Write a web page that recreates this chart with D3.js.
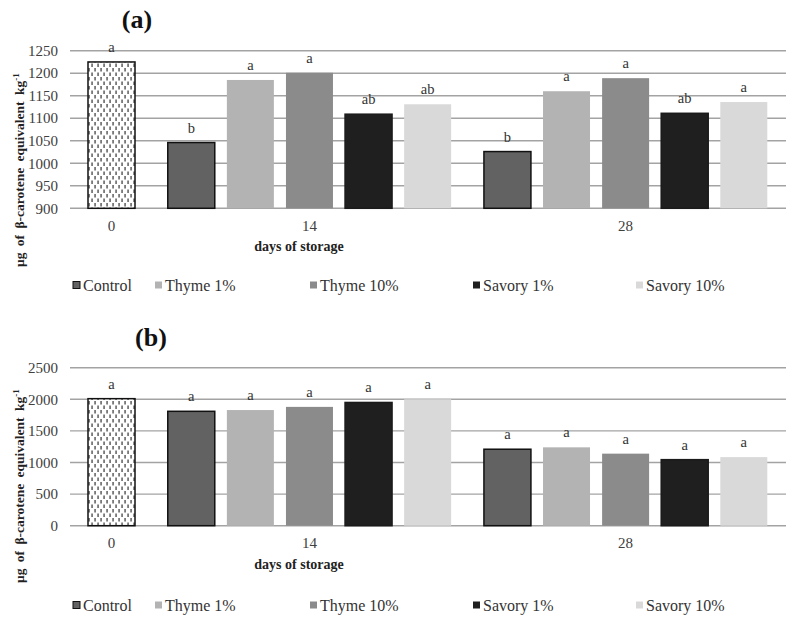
<!DOCTYPE html>
<html><head><meta charset="utf-8">
<script src="https://cdn.jsdelivr.net/npm/d3@7"></script>
<style>
html,body{margin:0;padding:0;background:#fff;}
svg{display:block;font-family:"Liberation Serif","Times New Roman",serif;}
</style></head>
<body>
<svg id="chart" width="796" height="620"></svg>
<script>
// ---------- data ----------
const days = ["0", "14", "28"];
const seriesNames = ["Control", "Thyme 1%", "Thyme 10%", "Savory 1%", "Savory 10%"];

// panel (a)
const aControl   = [1225, 1046, 1026];
const aThyme1    = [null, 1185, 1160];
const aThyme10   = [null, 1201, 1189];
const aSavory1   = [null, 1109, 1111];
const aSavory10  = [null, 1131, 1136];
const aLetters = [["a","b","b"], [null,"a","a"], [null,"a","a"], [null,"ab","ab"], [null,"ab","a"]];
const aTicks = [900, 950, 1000, 1050, 1100, 1150, 1200, 1250];

// panel (b)
const bControl   = [2010, 1810, 1210];
const bThyme1    = [null, 1830, 1240];
const bThyme10   = [null, 1880, 1140];
const bSavory1   = [null, 1950, 1045];
const bSavory10  = [null, 2000, 1085];
const bLetters = [["a","a","a"], [null,"a","a"], [null,"a","a"], [null,"a","a"], [null,"a","a"]];
const bTicks = [0, 500, 1000, 1500, 2000, 2500];

const yTitle = "μg of β-carotene equivalent";
const xTitle = "days of storage";

// ---------- style ----------
const fills = ["#626262", "#b3b3b3", "#8b8b8b", "#1f1f1f", "#d9d9d9"];
const strokes = ["#111", "none", "none", "#1a1a1a", "none"];
const legendX = [73, 155, 310, 473, 636];

const svg = d3.select("#chart");

// dashed pattern for day 0
const defs = svg.append("defs");
const pat = defs.append("pattern").attr("id","dots").attr("patternUnits","userSpaceOnUse")
  .attr("width", 6).attr("height", 9);
pat.append("rect").attr("width",6).attr("height",9).attr("fill","#fff");
pat.append("rect").attr("x",1.5).attr("y",0.5).attr("width",1.1).attr("height",3.5).attr("fill","#222");
pat.append("rect").attr("x",4.5).attr("y",5).attr("width",1.1).attr("height",3.5).attr("fill","#222");

// slot layout computed from data
function buildSlots(seriesVals){
  const slots = [];
  let s = 0;
  const groupCenters = [];
  days.forEach((d, di) => {
    const present = seriesVals.map((v,si)=>({si, v:v[di]})).filter(o => o.v != null);
    if (di > 0) s += 0.35;
    const first = s;
    present.forEach(o => { slots.push({day: di, si: o.si, v: o.v, slot: s}); s += 1; });
    groupCenters.push((first + s - 1) / 2);
  });
  return {slots, groupCenters, last: s - 1};
}

function panel(opts){
  const {vals, letters, ticks, yDomain, yRange, title, titlePos, xTitleY, dayY, legendY, yTitleBottom} = opts;
  const g = svg.append("g");
  const L = buildSlots(vals);
  const x = d3.scaleLinear().domain([0, L.last]).range([111.5, 743.8]);
  const y = d3.scaleLinear().domain(yDomain).range(yRange);
  const bw = 47;
  const plotL = 70, plotR = 786;

  g.selectAll("line.grid").data(ticks).join("line")
    .attr("x1", plotL).attr("x2", plotR)
    .attr("y1", d => y(d)).attr("y2", d => y(d))
    .attr("stroke", "#a3a3a3").attr("stroke-width", 1.4);

  g.selectAll("text.yt").data(ticks).join("text")
    .attr("x", 58).attr("y", d => y(d)).attr("dy", "0.35em")
    .attr("text-anchor", "end").attr("font-size", 15).attr("fill", "#404040")
    .text(d => d);

  g.selectAll("rect.bar").data(L.slots).join("rect")
    .attr("x", d => x(d.slot) - bw/2).attr("width", bw)
    .attr("y", d => y(d.v)).attr("height", d => y(yDomain[0]) - y(d.v))
    .attr("fill", d => d.day === 0 ? "url(#dots)" : fills[d.si])
    .attr("stroke", d => d.day === 0 ? "#111" : strokes[d.si])
    .attr("stroke-width", 1.5);

  g.selectAll("text.lab").data(L.slots).join("text")
    .attr("x", d => x(d.slot)).attr("y", d => y(d.v) - 10)
    .attr("text-anchor", "middle").attr("font-size", 14.5).attr("fill", "#333")
    .text(d => letters[d.si][d.day]);

  g.selectAll("text.day").data(days).join("text")
    .attr("x", (d,i) => x(L.groupCenters[i])).attr("y", dayY)
    .attr("text-anchor", "middle").attr("font-size", 15).attr("fill", "#404040")
    .text(d => d);

  g.append("text").attr("x", 299).attr("y", xTitleY).attr("text-anchor","middle")
    .attr("font-size", 14).attr("font-weight","bold").attr("fill","#222").text(xTitle);

  g.append("text").attr("x", titlePos[0]).attr("y", titlePos[1]).attr("text-anchor","middle")
    .attr("font-size", 26).attr("font-weight","bold").attr("fill","#111").text(title);

  const yt = g.append("text").attr("transform", `translate(24,${yTitleBottom}) rotate(-90)`)
    .attr("font-size", 13.5).attr("font-weight","bold").attr("fill","#222")
    .attr("word-spacing", 3);
  yt.append("tspan").text(yTitle + "   kg");
  yt.append("tspan").attr("dy", -5).attr("font-size", 9).text("-1");

  const lg = g.selectAll("g.leg").data(seriesNames).join("g")
    .attr("transform", (d,i) => `translate(${legendX[i]},${legendY})`);
  lg.append("rect").attr("x", 0).attr("y", -3.5).attr("width", 7).attr("height", 7)
    .attr("fill", (d,i) => fills[i]).attr("stroke", (d,i) => i === 0 ? "#111" : "none").attr("stroke-width", 1);
  lg.append("text").attr("x", 10).attr("y", 0).attr("dy","0.35em")
    .attr("font-size", 16).attr("fill", "#333").text(d => d);
}

panel({
  vals: [aControl, aThyme1, aThyme10, aSavory1, aSavory10],
  letters: aLetters, ticks: aTicks,
  yDomain: [900, 1250], yRange: [208.3, 50.7],
  title: "(a)", titlePos: [137, 28],
  xTitleY: 251, dayY: 231, legendY: 285, yTitleBottom: 267
});
panel({
  vals: [bControl, bThyme1, bThyme10, bSavory1, bSavory10],
  letters: bLetters, ticks: bTicks,
  yDomain: [0, 2500], yRange: [525.7, 367.7],
  title: "(b)", titlePos: [151, 346],
  xTitleY: 569, dayY: 548, legendY: 605, yTitleBottom: 583
});
</script>
</body></html>
